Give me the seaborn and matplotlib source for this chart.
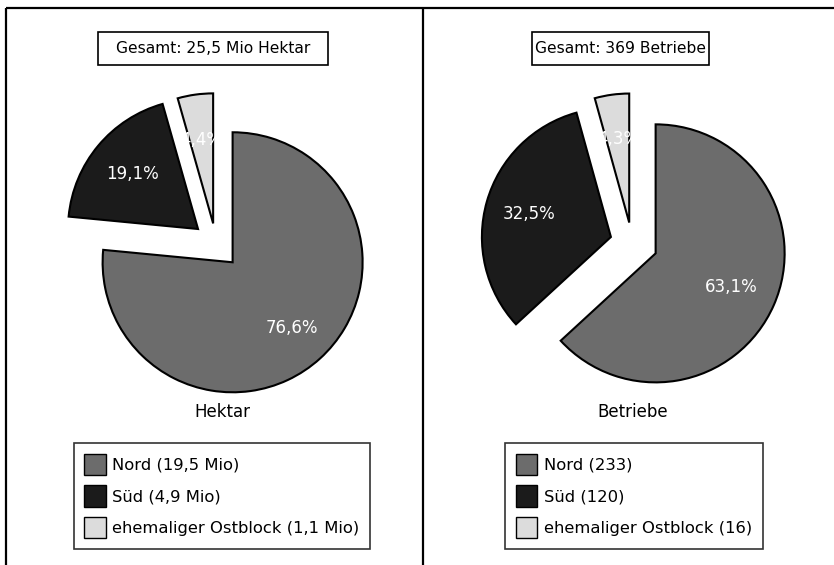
import numpy as np
import matplotlib
matplotlib.use("Agg")
import matplotlib.pyplot as plt
from matplotlib.lines import Line2D
from matplotlib.patches import Rectangle
import seaborn as sns

# Data
regions = ["Nord", "Süd", "ehemaliger Ostblock"]
area_pct = [76.6, 19.1, 4.4]
area_abs = ["19,5 Mio", "4,9 Mio", "1,1 Mio"]
farm_pct = [63.1, 32.5, 4.3]
farm_abs = ["233", "120", "16"]
area_total = "Gesamt: 25,5 Mio Hektar"
farm_total = "Gesamt: 369 Betriebe"
area_name = "Hektar"
farm_name = "Betriebe"

sns.set_theme(style="white")
plt.rcParams["font.family"] = ["DejaVu Sans"]
plt.rcParams["text.color"] = "black"
colors = sns.color_palette(["#6c6c6c", "#1b1b1b", "#dcdcdc"])

W, H = 834, 565
fig = plt.figure(figsize=(W / 100, H / 100), dpi=100)
fig.patch.set_facecolor("white")


def fx(x):
    return x / W


def fy(y):
    return 1 - y / H


# panel frame
for xs, ys in [([6, 6], [8, H]), ([6, W], [8, 8]), ([423, 423], [8, H])]:
    fig.add_artist(Line2D([fx(v) for v in xs], [fy(v) for v in ys],
                          color="black", lw=1.6, solid_capstyle="butt"))


def pie_panel(cx, cy, r, pct, explode, label_dist, title, box, name, name_x,
              name_y, legend_labels, leg_xy):
    half = 200
    ax = fig.add_axes([fx(cx - half), fy(cy + half), 2 * half / W, 2 * half / H])
    wedges, _ = ax.pie(pct, colors=colors, explode=explode, startangle=90,
                       counterclock=False,
                       wedgeprops=dict(edgecolor="black", linewidth=1.5))
    lim = half / r
    ax.set_xlim(-lim, lim)
    ax.set_ylim(-lim, lim)
    ax.set_aspect("equal")
    ax.axis("off")
    for w, v, d in zip(wedges, pct, label_dist):
        ang = np.deg2rad((w.theta1 + w.theta2) / 2)
        x0, y0 = w.center
        ax.text(x0 + d * np.cos(ang), y0 + d * np.sin(ang),
                f"{v:.1f}%".replace(".", ","), color="white", fontsize=12,
                ha="center", va="center")

    # total box
    bx0, by0, bx1, by1 = box
    fig.add_artist(Rectangle((fx(bx0), fy(by1)), (bx1 - bx0) / W, (by1 - by0) / H,
                             facecolor="white", edgecolor="black", lw=1.2))
    fig.text(fx((bx0 + bx1) / 2), fy((by0 + by1) / 2), title, fontsize=11.2,
             ha="center", va="center")
    fig.text(fx(name_x), fy(name_y), name, fontsize=12, ha="center", va="center")

    leg = fig.legend(wedges, legend_labels, loc="upper center",
                     bbox_to_anchor=(fx(leg_xy[0]), fy(leg_xy[1])),
                     fontsize=11.8, frameon=True, fancybox=False,
                     handlelength=1.3, handleheight=1.65, handletextpad=0.4,
                     labelspacing=0.6, borderpad=0.65, borderaxespad=0)
    frame = leg.get_frame()
    frame.set_edgecolor("black")
    frame.set_linewidth(1.2)
    for h in leg.legend_handles:
        h.set_edgecolor("black")
        h.set_linewidth(1.0)


pie_panel(216, 244, 130, area_pct, [0.19, 0.18, 0.16], [0.68, 0.66, 0.65],
          area_total, (98, 32, 328, 65), area_name, 222, 412,
          [f"{n} ({a})" for n, a in zip(regions, area_abs)], (222, 443))
pie_panel(632, 243, 129, farm_pct, [0.2, 0.17, 0.16], [0.64, 0.66, 0.65],
          farm_total, (532, 32, 709, 65), farm_name, 633, 412,
          [f"{n} ({a})" for n, a in zip(regions, farm_abs)], (634, 443))

fig.savefig("out.png", dpi=100, facecolor="white")
